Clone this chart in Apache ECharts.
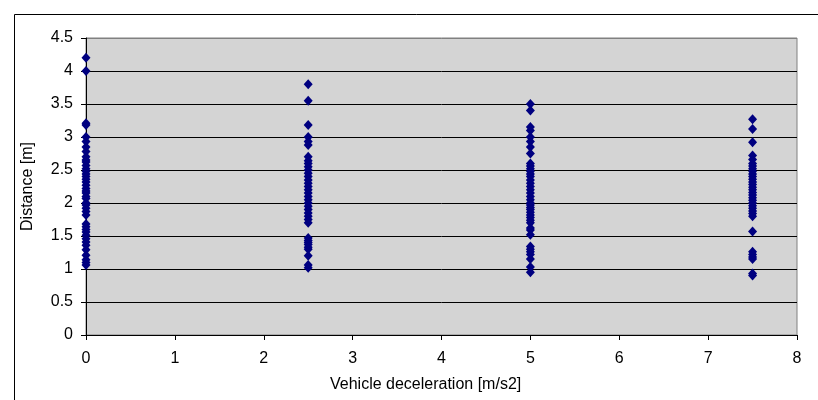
<!DOCTYPE html>
<html>
<head>
<meta charset="utf-8">
<script src="https://cdn.jsdelivr.net/npm/echarts@6/dist/echarts.min.js"></script>
<style>html,body{margin:0;padding:0;background:#fff}#c{width:818px;height:400px}</style>
</head>
<body>
<div id="c"></div>
<script>
var xTicks = [0,1,2,3,4,5,6,7,8];
var yTicks = [0,0.5,1,1.5,2,2.5,3,3.5,4,4.5];
var xTitle = 'Vehicle deceleration [m/s2]';
var yTitle = 'Distance [m]';

var decel0 = [4.2,4.0,3.21,3.18,3.0,2.93,2.85,2.78,2.7,2.65,2.62,2.57,2.52,2.48,2.44,2.4,2.36,2.32,2.27,2.22,2.18,2.15,2.1,2.07,2.0,1.97,1.92,1.87,1.82,1.68,1.64,1.6,1.56,1.51,1.46,1.41,1.36,1.29,1.21,1.14,1.1,1.06];
var decel25 = [3.8,3.55,3.18,3.0,2.93,2.88,2.7,2.64,2.6,2.55,2.5,2.45,2.4,2.35,2.3,2.25,2.2,2.15,2.1,2.05,2.0,1.95,1.9,1.85,1.8,1.75,1.7,1.47,1.43,1.4,1.37,1.33,1.3,1.2,1.06,1.02];
var decel5 = [3.5,3.4,3.15,3.1,3.0,2.93,2.85,2.75,2.6,2.56,2.52,2.48,2.44,2.4,2.35,2.3,2.25,2.2,2.15,2.1,2.05,2.0,1.97,1.93,1.9,1.86,1.82,1.78,1.74,1.7,1.62,1.59,1.52,1.34,1.3,1.26,1.22,1.15,1.03,0.95];
var decel75 = [3.27,3.12,2.92,2.72,2.66,2.6,2.56,2.52,2.48,2.44,2.4,2.36,2.32,2.28,2.24,2.2,2.16,2.12,2.08,2.04,2.0,1.96,1.92,1.88,1.84,1.8,1.57,1.26,1.22,1.18,1.15,0.93,0.9];

function pts(x, arr){ return arr.map(function(v){ return [x, v]; }); }
var allData = [].concat(pts(0,decel0), pts(2.5,decel25), pts(5,decel5), pts(7.5,decel75));

var FONT = 'Liberation Sans, Arial, sans-serif';
var chart = echarts.init(document.getElementById('c'), null, {renderer:'canvas'});
var splitColors = yTicks.map(function(v,i){ return i === yTicks.length-1 ? '#808080' : '#000000'; });
chart.setOption({
  animation:false,
  backgroundColor:'#ffffff',
  textStyle:{fontFamily:FONT},
  graphic:[
    {type:'rect', shape:{x:14.5,y:14.5,width:900,height:500}, style:{fill:'none',stroke:'#000',lineWidth:1}, z:-1},
    {type:'text', left:330, top:377, style:{text:xTitle, font:'16px '+FONT, fill:'#000'}}
  ],
  grid:{left:86,top:38,right:21,bottom:65,show:true,backgroundColor:'#d4d4d4',borderColor:'#808080',borderWidth:1},
  xAxis:{type:'value',min:0,max:8,interval:1,
    axisLine:{show:true,onZero:false,lineStyle:{color:'#000',width:1}},
    axisTick:{show:true,inside:false,length:5,lineStyle:{color:'#000'}},
    axisLabel:{fontSize:16,color:'#000',margin:16},
    splitLine:{show:false}},
  yAxis:{type:'value',min:0,max:4.5,interval:0.5,
    name:yTitle,nameLocation:'middle',nameGap:50,nameRotate:90,nameTextStyle:{fontSize:16,color:'#000'},
    axisLine:{show:true,onZero:false,lineStyle:{color:'#000',width:1}},
    axisTick:{show:true,inside:false,length:5,lineStyle:{color:'#000'}},
    axisLabel:{fontSize:16,color:'#000',margin:13,formatter:function(v){return String(v);}},
    splitLine:{show:true,lineStyle:{color:splitColors,width:1}}},
  series:[{type:'scatter',data:allData,symbol:'diamond',symbolSize:[9,10],
    itemStyle:{color:'#000080',opacity:1},clip:false}]
});
</script>
</body>
</html>
